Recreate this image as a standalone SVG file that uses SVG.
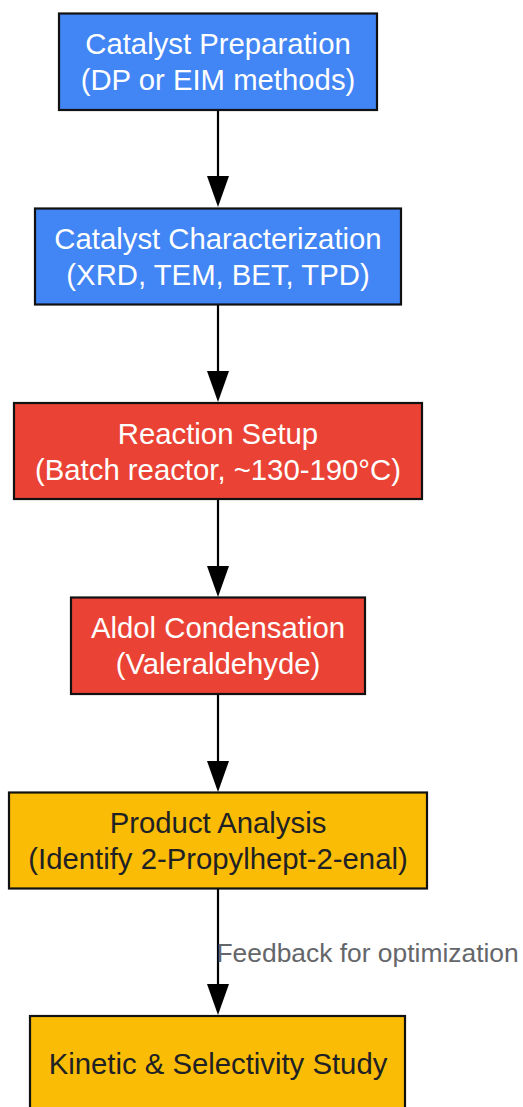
<svg xmlns="http://www.w3.org/2000/svg" width="523" height="1107" viewBox="0 0 523 1107">
<style>
.box{stroke:#111;stroke-width:2.2}
.blue{fill:#4285F4}
.red{fill:#EA4335}
.yel{fill:#FBBC05}
.t{font-family:"Liberation Sans",Arial,sans-serif;font-size:29.3px;text-anchor:middle}
.w{fill:#ffffff}
.d{fill:#202124}
.edge{stroke:#000;stroke-width:2.2;fill:none}
.lbl{font-family:"Liberation Sans",Arial,sans-serif;font-size:26.4px;fill:#646669}
</style>
<g id="connectors">
<line class="edge" x1="218" y1="110" x2="218" y2="177"/>
<path d="M207,176 L229,176 L218,207 Z" fill="#000"/>
<line class="edge" x1="218" y1="304" x2="218" y2="372"/>
<path d="M207,371 L229,371 L218,402 Z" fill="#000"/>
<line class="edge" x1="218" y1="499" x2="218" y2="567"/>
<path d="M207,566 L229,566 L218,597 Z" fill="#000"/>
<line class="edge" x1="218" y1="694" x2="218" y2="762"/>
<path d="M207,761 L229,761 L218,792 Z" fill="#000"/>
<line class="edge" x1="218" y1="888" x2="218" y2="985"/>
<path d="M207,984 L229,984 L218,1015 Z" fill="#000"/>
<text class="lbl" x="216.5" y="961.5">Feedback for optimization</text>
</g>
<g id="node1">
<rect class="box blue" x="59" y="13.5" width="318" height="96.5"/>
<text class="t w" x="218" y="54">Catalyst Preparation</text>
<text class="t w" x="218" y="90">(DP or EIM methods)</text>
</g>
<g id="node2">
<rect class="box blue" x="35" y="208.5" width="366" height="96"/>
<text class="t w" x="218" y="249">Catalyst Characterization</text>
<text class="t w" x="218" y="285">(XRD, TEM, BET, TPD)</text>
</g>
<g id="node3">
<rect class="box red" x="14" y="403" width="408" height="96"/>
<text class="t w" x="218" y="443.5">Reaction Setup</text>
<text class="t w" x="218" y="479.5">(Batch reactor, ~130-190°C)</text>
</g>
<g id="node4">
<rect class="box red" x="71" y="597.5" width="294" height="96.5"/>
<text class="t w" x="218" y="638">Aldol Condensation</text>
<text class="t w" x="218" y="674">(Valeraldehyde)</text>
</g>
<g id="node5">
<rect class="box yel" x="9" y="792.5" width="418" height="96"/>
<text class="t d" x="218" y="832.5">Product Analysis</text>
<text class="t d" x="218" y="868.5">(Identify 2-Propylhept-2-enal)</text>
</g>
<g id="node6">
<rect class="box yel" x="30" y="1016" width="375" height="97"/>
<text class="t d" x="218" y="1073.5">Kinetic &amp; Selectivity Study</text>
</g>
</svg>
